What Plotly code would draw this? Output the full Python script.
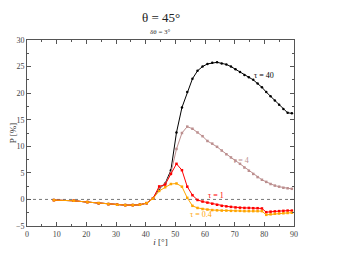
import plotly.graph_objects as go

# inclination grid (deg)
inc = [9.07, 15.74, 20.36, 24.15, 27.44, 30.39, 33.12, 35.66, 38.05, 40.32,
       42.48, 44.56, 46.57, 48.51, 50.39, 52.23, 54.02, 55.77, 57.48, 59.17,
       60.82, 62.45, 64.06, 65.64, 67.20, 68.75, 70.28, 71.79, 73.29, 74.78,
       76.26, 77.73, 79.19, 80.65, 82.10, 83.54, 84.98, 86.42, 87.85, 89.28]

low = [-0.13, -0.25, -0.5, -0.7, -0.88, -1.0, -1.07, -1.07, -1.0, -0.7]

p_tau40 = low + [0.2, 2.0, 3.0, 5.5, 12.6, 17.3, 20.2, 22.7, 24.2, 25.0,
                 25.5, 25.7, 25.8, 25.6, 25.4, 25.0, 24.5, 24.0, 23.4, 23.0,
                 22.5, 21.8, 21.1, 20.2, 19.4, 18.6, 17.8, 17.0, 16.3, 16.2]
p_tau4 = low + [0.2, 2.2, 2.9, 5.0, 9.5, 12.5, 13.7, 13.3, 12.6, 11.9,
                11.0, 10.5, 9.9, 9.2, 8.5, 7.9, 7.3, 6.7, 6.0, 5.4,
                4.8, 4.2, 3.7, 3.3, 2.9, 2.6, 2.4, 2.2, 2.1, 2.0]
p_tau1 = low + [0.2, 2.45, 2.8, 4.8, 6.7, 5.5, 2.4, 0.8, -0.1, -0.4,
                -0.6, -0.8, -1.0, -1.2, -1.3, -1.4, -1.5, -1.55, -1.6, -1.6,
                -1.65, -1.65, -1.7, -2.4, -2.3, -2.25, -2.2, -2.15, -2.1, -2.1]
p_tau04 = low + [0.15, 1.6, 2.3, 2.9, 3.0, 2.4, 0.3, -1.2, -1.6, -1.8,
                 -1.9, -2.0, -2.05, -2.1, -2.1, -2.15, -2.15, -2.15, -2.2, -2.2,
                 -2.2, -2.2, -2.2, -2.9, -2.8, -2.7, -2.65, -2.6, -2.55, -2.5]

series = [
    ("τ = 40", p_tau40, "#000000", "circle", 79.8, 23.3),
    ("τ = 4", p_tau4, "#bc8f8f", "square", 72.0, 7.4),
    ("τ = 1", p_tau1, "#ff0000", "square", 63.7, 0.8),
    ("τ = 0.4", p_tau04, "#ffa500", "square", 58.5, -2.9),
]

SERIF = "Liberation Serif"

fig = go.Figure()
fig.add_trace(go.Scatter(x=[0, 90], y=[0, 0], mode="lines",
                         line=dict(color="#777777", width=1, dash="dot"),
                         showlegend=False, hoverinfo="skip"))
for name, vals, col, sym, lx, ly in series:
    fig.add_trace(go.Scatter(x=inc, y=vals, mode="lines+markers", name=name,
                             line=dict(color=col, width=1),
                             marker=dict(color=col, size=2.5, symbol=sym),
                             showlegend=False))
    fig.add_annotation(x=lx, y=ly, text=name, showarrow=False,
                       font=dict(family=SERIF, size=8, color=col))

axis_common = dict(showline=True, linecolor="#555555", linewidth=1, mirror="ticks",
                   ticks="inside", ticklen=4, tickcolor="#555555", showgrid=False,
                   zeroline=False, automargin=False,
                   tickfont=dict(family=SERIF, size=8, color="#444444"))

fig.update_xaxes(range=[0, 90], dtick=10, tick0=0,
                 minor=dict(dtick=5, ticks="inside", ticklen=2, tickcolor="#555555"),
                 title=dict(text="<i>i</i> [°]", standoff=1,
                            font=dict(family=SERIF, size=9, color="#333333")),
                 **axis_common)
fig.update_yaxes(range=[-5, 30], dtick=5, tick0=0,
                 minor=dict(dtick=2.5, ticks="inside", ticklen=2, tickcolor="#555555"),
                 title=dict(text="P [%]", standoff=4,
                            font=dict(family=SERIF, size=9, color="#333333")),
                 **axis_common)

fig.add_annotation(x=0.5, y=1, xref="paper", yref="paper", yanchor="bottom",
                   yshift=13, text="θ = 45°", showarrow=False,
                   font=dict(family=SERIF, size=13, color="#222222"))
fig.add_annotation(x=0.5, y=1, xref="paper", yref="paper", yanchor="bottom",
                   yshift=2, text="δθ = 3°", showarrow=False,
                   font=dict(family=SERIF, size=7, color="#333333"))

fig.update_layout(
    template="none",
    width=346, height=251,
    margin=dict(l=19, r=60, t=32, b=33),
    paper_bgcolor="white", plot_bgcolor="white",
    font=dict(family=SERIF, color="#444444"),
)

fig.write_html("out.html")
